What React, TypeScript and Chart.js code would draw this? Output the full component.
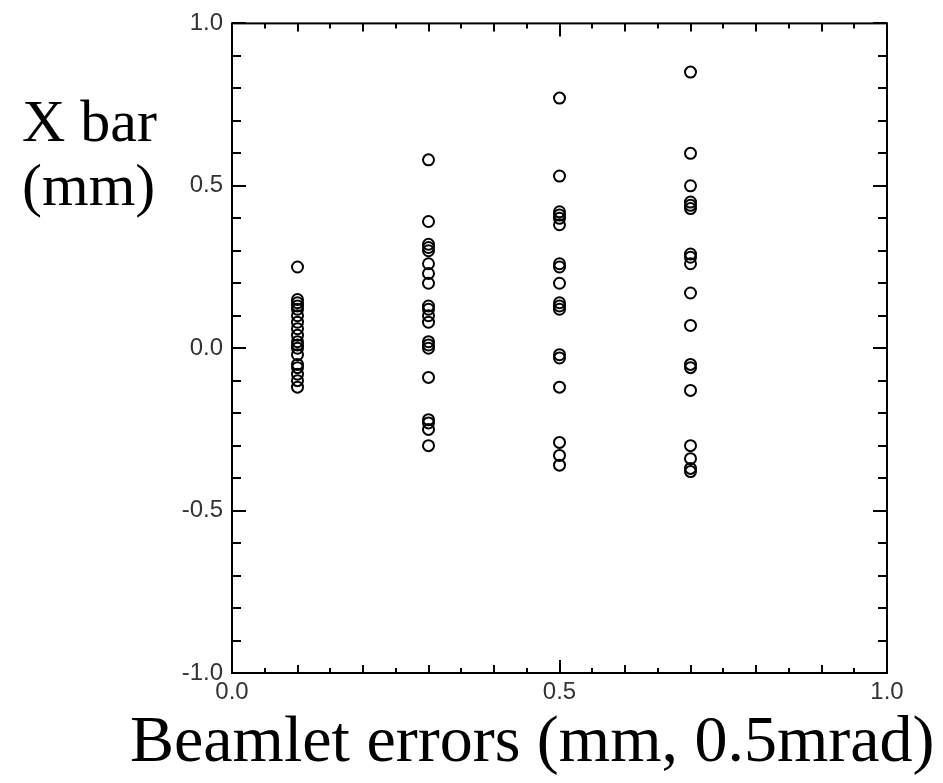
import React, { useEffect, useRef } from "react";
import { Chart, registerables } from "chart.js";

Chart.register(...registerables);

// Beamlet error levels (x) and the X bar values (mm) measured at each level
const errorLevels = [0.1, 0.3, 0.5, 0.7];
const xbarAt01 = [0.25, 0.15, 0.14, 0.13, 0.12, 0.10, 0.08, 0.06, 0.04, 0.02, 0.01, 0.0, -0.02, -0.05, -0.06, -0.08, -0.10, -0.12];
const xbarAt03 = [0.58, 0.39, 0.32, 0.31, 0.30, 0.26, 0.23, 0.20, 0.13, 0.12, 0.10, 0.08, 0.02, 0.01, 0.0, -0.09, -0.22, -0.23, -0.25, -0.30];
const xbarAt05 = [0.77, 0.53, 0.42, 0.41, 0.40, 0.38, 0.26, 0.25, 0.20, 0.14, 0.13, 0.12, -0.02, -0.03, -0.12, -0.29, -0.33, -0.36];
const xbarAt07 = [0.85, 0.60, 0.50, 0.45, 0.44, 0.43, 0.29, 0.28, 0.26, 0.17, 0.07, -0.05, -0.06, -0.13, -0.30, -0.34, -0.37, -0.38];
const xbarColumns = [xbarAt01, xbarAt03, xbarAt05, xbarAt07];

const xTickLabels = ["0.0", "0.5", "1.0"];
const yTickLabels = ["-1.0", "-0.5", "0.0", "0.5", "1.0"];
const yTitleLines = ["X bar", "(mm)"];
const xTitle = "Beamlet errors (mm, 0.5mrad)";

const near = (v: number, m: number) => Math.abs(v / m - Math.round(v / m)) < 1e-6;

const framePlugin = {
  id: "frameTicks",
  beforeDatasetsDraw(chart: any) {
    const { ctx, chartArea: a, scales } = chart;
    ctx.save();
    ctx.strokeStyle = "#000";
    ctx.lineWidth = 2;
    ctx.lineCap = "butt";
    ctx.strokeRect(a.left, a.top, a.right - a.left, a.bottom - a.top);
    ctx.beginPath();
    for (const t of scales.y.ticks) {
      const py = Math.round(scales.y.getPixelForValue(t.value));
      const len = near(t.value, 0.5) ? 14 : 9;
      ctx.moveTo(a.left, py);
      ctx.lineTo(a.left + len, py);
      ctx.moveTo(a.right, py);
      ctx.lineTo(a.right - len, py);
    }
    for (const t of scales.x.ticks) {
      const px = Math.round(scales.x.getPixelForValue(t.value));
      const len = near(t.value, 0.5) ? 13 : near(t.value, 0.1) ? 8 : 5;
      ctx.moveTo(px, a.top);
      ctx.lineTo(px, a.top + len);
      ctx.moveTo(px, a.bottom);
      ctx.lineTo(px, a.bottom - len);
    }
    ctx.stroke();
    ctx.restore();
  },
  afterDraw(chart: any) {
    const { ctx } = chart;
    ctx.save();
    ctx.fillStyle = "#000";
    ctx.textAlign = "left";
    ctx.textBaseline = "alphabetic";
    ctx.font = '60px "Liberation Serif", "Times New Roman", serif';
    ctx.fillText(yTitleLines[0], 22, 141);
    ctx.fillText(yTitleLines[1], 22, 205);
    ctx.font = '66px "Liberation Serif", "Times New Roman", serif';
    ctx.fillText(xTitle, 130, 761);
    ctx.restore();
  },
};

export default function App() {
  const ref = useRef<HTMLCanvasElement>(null);
  useEffect(() => {
    if (!ref.current) return;
    const points: { x: number; y: number }[] = [];
    errorLevels.forEach((lvl, i) => xbarColumns[i].forEach((v) => points.push({ x: lvl, y: v })));
    const tickFont = { family: "'Liberation Sans', Arial, sans-serif", size: 24 };
    const chart = new Chart(ref.current, {
      type: "scatter",
      data: {
        datasets: [
          {
            data: points,
            pointStyle: "circle",
            pointRadius: 5.5,
            pointBorderWidth: 2,
            borderColor: "#000",
            backgroundColor: "rgba(0,0,0,0)",
          },
        ],
      },
      options: {
        animation: false,
        responsive: false,
        layout: { padding: { left: 0, right: 56, top: 20, bottom: 0 } },
        plugins: { legend: { display: false }, tooltip: { enabled: false } },
        scales: {
          x: {
            type: "linear",
            min: 0,
            max: 1,
            border: { display: false },
            grid: { display: false, drawTicks: false },
            afterFit: (s: any) => { s.height = 110; },
            ticks: {
              stepSize: 0.05,
              autoSkip: false,
              maxRotation: 0,
              padding: 5,
              color: "#333",
              font: tickFont,
              callback: (v: any) => {
                const lbl = Number(v).toFixed(1);
                return near(Number(v), 0.5) && xTickLabels.includes(lbl) ? lbl : "";
              },
            },
          },
          y: {
            type: "linear",
            min: -1,
            max: 1,
            border: { display: false },
            grid: { display: false, drawTicks: false },
            afterFit: (s: any) => { s.width = 232; },
            ticks: {
              stepSize: 0.1,
              autoSkip: false,
              padding: 9,
              color: "#333",
              font: tickFont,
              callback: (v: any) => {
                const lbl = Number(v).toFixed(1);
                return near(Number(v), 0.5) && yTickLabels.includes(lbl) ? lbl : "";
              },
            },
          },
        },
      },
      plugins: [framePlugin],
    });
    return () => chart.destroy();
  }, []);
  return (
    <div style={{ position: "absolute", left: 0, top: 0, width: 943, height: 783, background: "#fff" }}>
      <canvas ref={ref} width={943} height={783} style={{ display: "block" }} />
    </div>
  );
}
